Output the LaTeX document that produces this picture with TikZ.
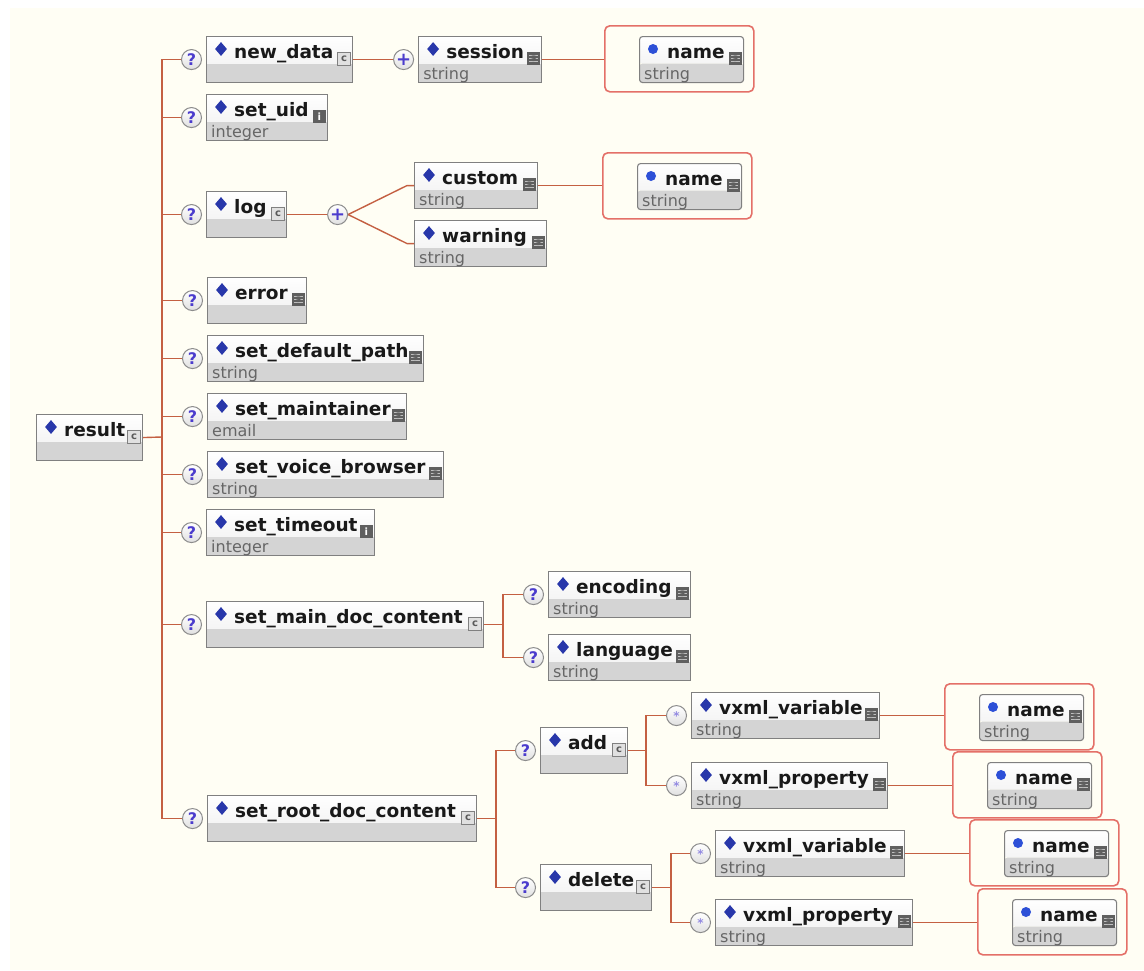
\documentclass[tikz,border=0pt]{standalone}
\usepackage{fontspec}
\setmainfont{DejaVu Sans}
\usetikzlibrary{positioning,shapes.geometric}
\definecolor{cream}{RGB}{255,254,244}
\definecolor{boxgray}{RGB}{128,128,128}
\definecolor{band}{RGB}{212,212,212}
\definecolor{linkred}{RGB}{196,96,66}
\definecolor{grpred}{RGB}{228,112,104}
\definecolor{diablue}{RGB}{40,55,170}
\definecolor{attblue}{RGB}{45,80,215}
\definecolor{qblue}{RGB}{75,60,205}
\definecolor{icogray}{RGB}{95,95,95}

\begin{document}
\begin{tikzpicture}[x=1pt,y=-1pt,
  box/.style n args={3}{draw=boxgray, line width=1.1pt, anchor=north west,
    minimum height=46pt, inner sep=0pt,
    path picture={
      \shade[top color=white, bottom color=black!7] (path picture bounding box.north west) rectangle ([yshift=19pt]path picture bounding box.south east);
      \fill[band] ([yshift=19pt]path picture bounding box.south west) rectangle (path picture bounding box.south east);},
    label={[lbl]north west:#1}, label={[typ]south west:#2},
    label={[ico#3]north east:#3}},
  elem/.style n args={3}{box={#1}{#2}{#3}, label={[dia]north west:{}}},
  attr/.style n args={3}{box={#1}{#2}{#3}, rounded corners=3pt, label={[attdot]north west:{}}},
  lbl/.style={anchor=base west, xshift=28pt, yshift=-22pt, inner sep=0pt,
    font=\fontsize{18.5}{20}\selectfont\bfseries, text=black!90},
  typ/.style={anchor=base west, xshift=5pt, yshift=4pt, inner sep=0pt,
    font=\fontsize{16}{18}\selectfont, text=black!60},
  dia/.style={diamond, fill=diablue, inner sep=0pt, minimum width=12pt,
    minimum height=14pt, anchor=center, xshift=15pt, yshift=-13pt},
  attdot/.style={circle, fill=attblue, inner sep=0pt, minimum size=10pt,
    anchor=center, xshift=14pt, yshift=-13pt},
  icobase/.style={anchor=north east, xshift=-2pt, yshift=-16pt,
    minimum size=13pt, inner sep=0pt, font=\fontsize{10}{10}\selectfont\bfseries},
  icoc/.style={icobase, draw=boxgray, fill=black!12, line width=0.8pt, text=black!65},
  icos/.style={icobase, fill=icogray, text=icogray, path picture={
    \draw[black!25, line width=1pt] ([xshift=2pt,yshift=-3.5pt]path picture bounding box.north west) -- ++(9,0);
    \draw[black!25, line width=1pt] ([xshift=2pt,yshift=-6.5pt]path picture bounding box.north west) -- ++(9,0);
    \draw[black!25, line width=1pt] ([xshift=2pt,yshift=-9.5pt]path picture bounding box.north west) -- ++(9,0);}},
  icoi/.style={icobase, fill=icogray, text=white},
  opt/.style={circle, draw=black!45, line width=1pt, top color=white,
    bottom color=black!12, minimum size=20pt, inner sep=0pt, text=qblue,
    font=\fontsize{16}{16}\selectfont\bfseries},
  seq/.style={opt, font=\fontsize{18}{18}\selectfont\bfseries},
  many/.style={opt, text=qblue!60, font=\fontsize{12}{12}\selectfont\bfseries},
  grp/.style={draw=grpred, line width=1.6pt, rounded corners=5pt, anchor=north west,
    minimum width=149pt, minimum height=66pt, inner sep=0pt},
  conn/.style={draw=linkred, line width=1.4pt}]

  % background
  \useasboundingbox (0,0) rectangle (1144,970);
  \fill[white] (0,0) rectangle (1144,970);
  \fill[cream] (10,8) rectangle (1144,970);

  % result
  \node[elem={result}{}{c}, minimum width=106pt] (result) at (36,414) {};

  % new_data
  \node[elem={new\_data}{}{c}, minimum width=146pt] (newdata) at (206,36) {};
  \node[opt, left=4pt of newdata] (qnew) {?};
  \node[seq, right=40pt of newdata] (snew) {+};
  \node[elem={session}{string}{s}, minimum width=123pt, right=4pt of snew] (session) {};
  \node[grp] (gsess) at (604,25) {};
  \node[attr={name}{string}{s}, minimum width=104pt] (nsess) at ([shift={(35,11)}]gsess.north west) {};

  % set_uid
  \node[elem={set\_uid}{integer}{i}, minimum width=121pt] (setuid) at (206,94) {};
  \node[opt, left=4pt of setuid] (quid) {?};

  % log
  \node[elem={log}{}{c}, minimum width=80pt] (log) at (206,191) {};
  \node[opt, left=4pt of log] (qlog) {?};
  \node[seq, right=40pt of log] (slog) {+};
  \node[elem={custom}{string}{s}, minimum width=123pt] (custom) at (414,162) {};
  \node[elem={warning}{string}{s}, minimum width=132pt] (warning) at (414,220) {};
  \node[grp] (gcust) at (602,152) {};
  \node[attr={name}{string}{s}, minimum width=104pt] (ncust) at ([shift={(35,11)}]gcust.north west) {};

  % error .. set_timeout
  \node[elem={error}{}{s}, minimum width=99pt] (error) at (207,277) {};
  \node[opt, left=4pt of error] (qerr) {?};
  \node[elem={set\_default\_path}{string}{s}, minimum width=216pt] (defpath) at (207,335) {};
  \node[opt, left=4pt of defpath] (qpath) {?};
  \node[elem={set\_maintainer}{email}{s}, minimum width=199pt] (maint) at (207,393) {};
  \node[opt, left=4pt of maint] (qmaint) {?};
  \node[elem={set\_voice\_browser}{string}{s}, minimum width=236pt] (voice) at (207,451) {};
  \node[opt, left=4pt of voice] (qvoice) {?};
  \node[elem={set\_timeout}{integer}{i}, minimum width=168pt] (timeout) at (206,509) {};
  \node[opt, left=4pt of timeout] (qtime) {?};

  % set_main_doc_content
  \node[elem={set\_main\_doc\_content}{}{c}, minimum width=277pt] (maindoc) at (206,601) {};
  \node[opt, left=4pt of maindoc] (qmain) {?};
  \node[elem={encoding}{string}{s}, minimum width=142pt] (encoding) at (548,571) {};
  \node[opt, left=4pt of encoding] (qenc) {?};
  \node[elem={language}{string}{s}, minimum width=142pt] (language) at (548,634) {};
  \node[opt, left=4pt of language] (qlang) {?};

  % set_root_doc_content
  \node[elem={set\_root\_doc\_content}{}{c}, minimum width=269pt] (rootdoc) at (207,795) {};
  \node[opt, left=4pt of rootdoc] (qroot) {?};
  \node[elem={add}{}{c}, minimum width=87pt] (add) at (540,727) {};
  \node[opt, left=4pt of add] (qadd) {?};
  \node[elem={delete}{}{c}, minimum width=111pt] (delete) at (540,864) {};
  \node[opt, left=4pt of delete] (qdel) {?};

  % add / delete children
  \node[elem={vxml\_variable}{string}{s}, minimum width=188pt] (addvar) at (691,692) {};
  \node[many, left=4pt of addvar] (maddvar) {*};
  \node[elem={vxml\_property}{string}{s}, minimum width=196pt] (addprop) at (691,762) {};
  \node[many, left=4pt of addprop] (maddprop) {*};
  \node[elem={vxml\_variable}{string}{s}, minimum width=189pt] (delvar) at (715,830) {};
  \node[many, left=4pt of delvar] (mdelvar) {*};
  \node[elem={vxml\_property}{string}{s}, minimum width=197pt] (delprop) at (715,899) {};
  \node[many, left=4pt of delprop] (mdelprop) {*};
  \node[grp] (gaddvar) at (944,683) {};
  \node[attr={name}{string}{s}, minimum width=104pt] (naddvar) at ([shift={(35,11)}]gaddvar.north west) {};
  \node[grp] (gaddprop) at (952,751) {};
  \node[attr={name}{string}{s}, minimum width=104pt] (naddprop) at ([shift={(35,11)}]gaddprop.north west) {};
  \node[grp] (gdelvar) at (969,819) {};
  \node[attr={name}{string}{s}, minimum width=104pt] (ndelvar) at ([shift={(35,11)}]gdelvar.north west) {};
  \node[grp] (gdelprop) at (977,888) {};
  \node[attr={name}{string}{s}, minimum width=104pt] (ndelprop) at ([shift={(35,11)}]gdelprop.north west) {};

  % trunk
  \coordinate (trunk) at (162,437);
  \draw[conn] (result.east) -- (trunk);
  \draw[conn] (qnew.west) -| (trunk) |- (qroot.west);
  \draw[conn] (quid.west) -- (quid.west -| trunk);
  \draw[conn] (qlog.west) -- (qlog.west -| trunk);
  \draw[conn] (qerr.west) -- (qerr.west -| trunk);
  \draw[conn] (qpath.west) -- (qpath.west -| trunk);
  \draw[conn] (qmaint.west) -- (qmaint.west -| trunk);
  \draw[conn] (qvoice.west) -- (qvoice.west -| trunk);
  \draw[conn] (qtime.west) -- (qtime.west -| trunk);
  \draw[conn] (qmain.west) -- (qmain.west -| trunk);

  % new_data, log
  \draw[conn] (newdata.east) -- (snew.west);
  \draw[conn] (session.east) -- (session.east -| gsess.west);
  \draw[conn] (log.east) -- (slog.west);
  \draw[conn] (slog.east) -- ([xshift=-7pt]custom.west) -- (custom.west);
  \draw[conn] (slog.east) -- ([xshift=-7pt]warning.west) -- (warning.west);
  \draw[conn] (custom.east) -- (custom.east -| gcust.west);

  % set_main_doc_content
  \draw[conn] (maindoc.east) -- ++(19,0) coordinate (bmain);
  \draw[conn] (qenc.west) -| (bmain) |- (qlang.west);

  % set_root_doc_content
  \draw[conn] (rootdoc.east) -- ++(19,0) coordinate (broot);
  \draw[conn] (qadd.west) -| (broot) |- (qdel.west);
  \draw[conn] (add.east) -- ++(18,0) coordinate (badd);
  \draw[conn] (maddvar.west) -| (badd) |- (maddprop.west);
  \draw[conn] (delete.east) -- ++(19,0) coordinate (bdel);
  \draw[conn] (mdelvar.west) -| (bdel) |- (mdelprop.west);
  \draw[conn] (addvar.east) -- (addvar.east -| gaddvar.west);
  \draw[conn] (addprop.east) -- (addprop.east -| gaddprop.west);
  \draw[conn] (delvar.east) -- (delvar.east -| gdelvar.west);
  \draw[conn] (delprop.east) -- (delprop.east -| gdelprop.west);
\end{tikzpicture}
\end{document}
